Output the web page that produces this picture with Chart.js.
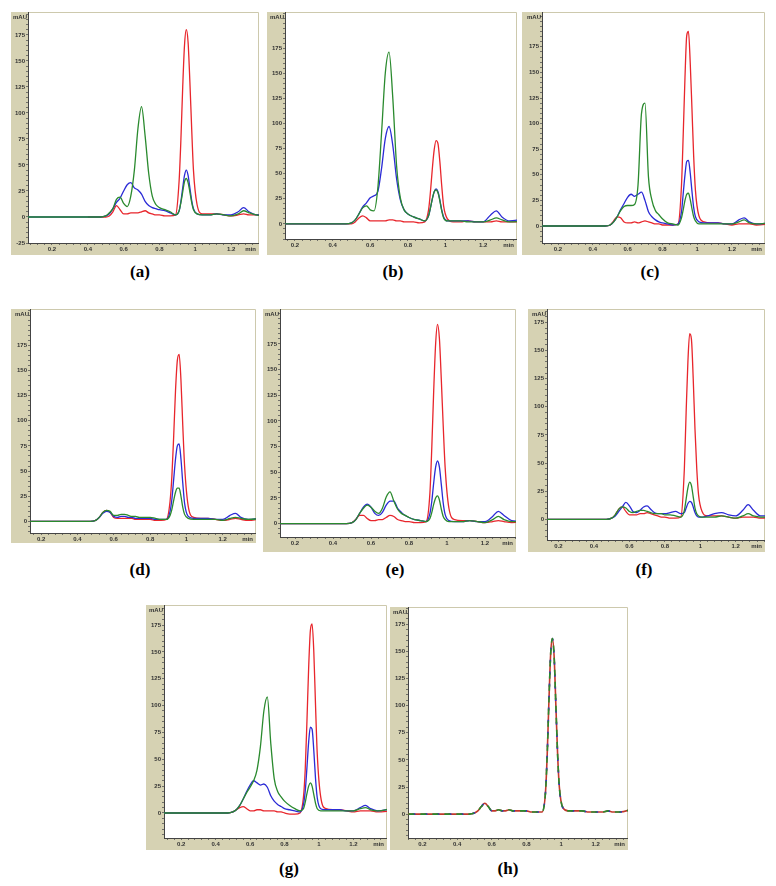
<!DOCTYPE html>
<html>
<head>
<meta charset="utf-8">
<title>Chromatograms (a)-(h)</title>
<script src="https://cdn.jsdelivr.net/npm/chart.js@4.4.1/dist/chart.umd.min.js"></script>
<style>
  html, body { margin: 0; padding: 0; background: #fff; }
  body { position: relative; width: 776px; height: 886px; overflow: hidden; }
  .panel { position: absolute; }
  .panel canvas { display: block; }
  .tag { position: absolute; transform: translate(-50%, -50%); font: bold 17px "Liberation Serif", "DejaVu Serif", serif; color: #000; white-space: nowrap; }
</style>
</head>
<body>
<script>
// retention time (min) of every sampled point, shared by all traces
const times = [0.05, 0.40, 0.47, 0.50,
  0.52, 0.54, 0.56, 0.58, 0.60, 0.62, 0.64, 0.66, 0.68, 0.70, 0.72, 0.74, 0.76, 0.78, 0.80, 0.83, 0.86, 0.89,
  0.91, 0.92, 0.93, 0.94, 0.95, 0.96, 0.97, 0.98, 0.99,
  1.01, 1.04, 1.08, 1.12, 1.16, 1.20, 1.24, 1.27, 1.30, 1.34, 1.42];

// absorbance (mAU)
const aRed   = [null, 0, 0, 0,  1, 5, 11, 7, 3, 3, 4, 4, 4, 5, 6, 4, 3, 2, 2, 1, 1, 2,  35, 75, 125, 165, 180, 168, 130, 85, 45,  12, 3, 3, 3, 2, 1, 2, 3, 2, 2, 1];
const aBlue  = [0, 0, 0, 1,  3, 8, 14, 18, 25, 31, 33, 28, 26, 22, 15, 11, 9, 8, 7, 6, 4, 2,  6, 15, 28, 40, 45, 40, 28, 16, 8,  3, 2, 2, 3, 2, 2, 5, 9, 5, 2, 2];
const aGreen = [0, 0, 0, 1,  4, 8, 17, 19, 13, 10, 20, 45, 85, 106, 78, 42, 20, 12, 9, 7, 5, 2,  6, 14, 24, 34, 37, 33, 24, 14, 7,  3, 2, 2, 3, 2, 1, 3, 6, 4, 2, 1];

const bRed   = [0, 0, 0, 0,  2, 6, 8, 6, 3, 3, 3, 3, 3, 4, 4, 3, 3, 2, 2, 2, 1, 2,  14, 32, 55, 74, 83, 80, 62, 38, 18,  5, 2, 2, 3, 2, 2, 2, 3, 2, 2, 2];
const bBlue  = [0, 0, 0, 1,  4, 10, 17, 21, 26, 28, 32, 55, 85, 97, 78, 45, 24, 14, 10, 7, 5, 3,  8, 16, 25, 32, 35, 32, 24, 14, 7,  3, 3, 3, 3, 2, 2, 9, 13, 7, 3, 5];
const bGreen = [0, 0, 0, 1,  4, 10, 16, 18, 14, 13, 35, 90, 150, 171, 125, 58, 26, 14, 10, 7, 5, 3,  8, 16, 25, 32, 34, 31, 23, 13, 6,  3, 3, 3, 2, 2, 2, 4, 6, 4, 2, 3];

const cRed   = [0, 0, 0, 1,  5, 9, 8, 4, 3, 3, 4, 3, 4, 5, 4, 3, 2, 2, 1, 1, 1, 2,  40, 90, 145, 186, 190, 160, 115, 68, 35,  10, 4, 3, 3, 2, 1, 2, 2, 2, 1, 2];
const cBlue  = [0, 0, 0, 1,  4, 9, 16, 22, 28, 31, 29, 31, 33, 25, 14, 9, 6, 4, 3, 2, 1, 2,  14, 32, 50, 63, 64, 52, 34, 18, 9,  4, 3, 3, 3, 2, 2, 6, 8, 4, 2, 3];
const cGreen = [0, 0, 0, 1,  4, 9, 15, 19, 20, 20, 21, 40, 110, 120, 48, 25, 15, 11, 7, 3, 2, 1,  8, 16, 25, 31, 32, 26, 17, 9, 5,  2, 2, 2, 2, 2, 2, 4, 6, 3, 2, 3];

const dRed   = [0, 0, 0, 1,  4, 9, 11, 9, 4, 3, 3, 3, 3, 3, 2, 2, 2, 2, 2, 1, 1, 2,  20, 45, 85, 130, 160, 166, 140, 95, 55,  15, 4, 3, 3, 2, 1, 2, 3, 2, 1, 3];
const dBlue  = [0, 0, 0, 1,  4, 8, 10, 9, 5, 4, 5, 5, 4, 4, 3, 3, 3, 3, 3, 2, 2, 2,  10, 22, 42, 62, 75, 77, 62, 38, 18,  5, 3, 3, 3, 2, 2, 6, 8, 4, 2, 4];
const dGreen = [0, 0, 0, 1,  4, 9, 11, 10, 6, 6, 7, 7, 6, 5, 5, 4, 4, 4, 4, 3, 2, 2,  6, 12, 21, 29, 33, 33, 25, 14, 7,  3, 2, 2, 2, 2, 1, 3, 4, 3, 2, 3];

const eRed   = [0, 0, 0, 1,  4, 8, 8, 5, 3, 3, 4, 4, 6, 8, 7, 4, 3, 2, 2, 1, 1, 2,  30, 75, 130, 175, 194, 180, 140, 95, 55,  15, 4, 3, 3, 2, 1, 2, 3, 2, 1, 2];
const eBlue  = [0, 0, 0, 1,  4, 10, 16, 19, 16, 10, 8, 11, 18, 22, 22, 15, 11, 8, 6, 4, 3, 2,  10, 22, 40, 55, 61, 55, 38, 20, 9,  3, 2, 2, 3, 2, 2, 7, 12, 8, 3, 2];
const eGreen = [0, 0, 0, 1,  4, 10, 15, 18, 16, 12, 10, 15, 26, 31, 22, 14, 10, 8, 6, 4, 3, 2,  5, 11, 19, 25, 27, 23, 14, 7, 4,  2, 2, 2, 3, 2, 1, 4, 7, 4, 2, 2];

const fRed   = [0, 0, 0, 1,  4, 9, 11, 7, 4, 4, 4, 5, 5, 6, 5, 4, 3, 2, 2, 1, 1, 2,  45, 95, 140, 165, 160, 125, 80, 45, 22,  7, 3, 3, 3, 2, 1, 2, 2, 2, 1, 2];
const fBlue  = [0, 0, 0, 1,  3, 7, 11, 15, 12, 7, 6, 8, 11, 12, 9, 6, 5, 5, 5, 6, 7, 5,  6, 10, 14, 16, 15, 11, 6, 3, 2,  2, 3, 5, 6, 4, 3, 8, 13, 8, 3, 3];
const fGreen = [0, 0, 0, 1,  4, 9, 11, 10, 7, 6, 7, 8, 8, 7, 6, 5, 5, 5, 4, 4, 3, 2,  8, 18, 28, 33, 30, 20, 10, 5, 3,  2, 2, 2, 3, 2, 1, 3, 5, 3, 2, 2];

const gRed   = [0, 0, 0, 1,  3, 5, 6, 4, 2, 2, 3, 3, 2, 2, 2, 2, 1, 1, 0, -1, -1, 0,  15, 40, 85, 135, 170, 176, 150, 100, 55,  15, 4, 3, 3, 2, 1, 2, 2, 2, 1, 2];
const gBlue  = [0, 0, 0, 1,  3, 7, 13, 20, 26, 30, 28, 26, 27, 24, 16, 11, 8, 6, 4, 3, 2, 1,  8, 20, 42, 66, 80, 78, 58, 32, 14,  4, 3, 3, 3, 2, 2, 5, 7, 4, 2, 4];
const gGreen = [0, 0, 0, 1,  3, 7, 13, 19, 24, 30, 40, 62, 95, 108, 65, 32, 20, 15, 11, 7, 4, 2,  4, 10, 18, 25, 28, 25, 17, 9, 4,  2, 2, 2, 2, 2, 2, 4, 5, 3, 2, 4];

// (h): the three channels coincide
const hTrace = [0, 0, 0, 1,  3, 7, 10, 7, 3, 3, 4, 3, 3, 4, 3, 3, 3, 3, 3, 2, 2, 2,  20, 55, 105, 148, 162, 145, 100, 55, 25,  6, 3, 3, 3, 2, 2, 2, 3, 2, 2, 5];

// tick labels
const xTickLabels = [0.2, 0.4, 0.6, 0.8, 1, 1.2];
const yTickLabels = [-25, 0, 25, 50, 75, 100, 125, 150, 175];

// where each panel sits on the page and the axis range it shows
const panels = [
  { tag: '(a)', left: 11,  top: 12,  width: 248, height: 243, strip: 17, band: 12, x: [0.066, 1.356], y: [-25, 197],   lines: [aRed, aBlue, aGreen], at: [140, 272] },
  { tag: '(b)', left: 267, top: 12,  width: 250, height: 243, strip: 18, band: 16, x: [0.147, 1.38],  y: [-15, 211],   lines: [bRed, bBlue, bGreen], at: [393, 272] },
  { tag: '(c)', left: 522, top: 12,  width: 243, height: 243, strip: 20, band: 12, x: [0.108, 1.39],  y: [-16.6, 209], lines: [cRed, cBlue, cGreen], at: [650, 272] },
  { tag: '(d)', left: 11,  top: 309, width: 245, height: 234, strip: 19, band: 10, x: [0.139, 1.383], y: [-11.5, 211], lines: [dRed, dBlue, dGreen], at: [140, 570] },
  { tag: '(e)', left: 263, top: 309, width: 253, height: 243, strip: 17, band: 15, x: [0.121, 1.363], y: [-13, 209],   lines: [eRed, eBlue, eGreen], at: [395, 570] },
  { tag: '(f)', left: 528, top: 309, width: 237, height: 243, strip: 19, band: 12, x: [0.135, 1.365], y: [-18.4, 187], lines: [fRed, fBlue, fGreen], at: [644, 570] },
  { tag: '(g)', left: 146, top: 605, width: 241, height: 245, strip: 18, band: 12, x: [0.10, 1.395],  y: [-23.3, 193.7], lines: [gRed, gBlue, gGreen], at: [289, 869] },
  { tag: '(h)', left: 390, top: 607, width: 238, height: 243, strip: 18, band: 12, x: [0.117, 1.386], y: [-22, 191],   lines: [hTrace, hTrace, hTrace], at: [508, 869], overlay: true }
];

const TAN = '#d6d2b3';
const RED = '#e8262c';
const BLUE = '#2b2bd6';
const GREEN = '#2a8a2e';
const TICK_FONT = { family: 'Liberation Sans', size: 6, weight: 'bold' };

// tan frame, white plot area, "mAU" and "min" captions
const panelFrame = {
  id: 'panelFrame',
  beforeDraw(chart) {
    const { ctx, chartArea: a, width, height } = chart;
    ctx.save();
    ctx.fillStyle = TAN;
    ctx.fillRect(0, 0, width, height);
    ctx.fillStyle = '#fff';
    ctx.fillRect(a.left, a.top, a.right - a.left, a.bottom - a.top);
    ctx.strokeStyle = '#cdc9ad';
    ctx.lineWidth = 1;
    ctx.beginPath();
    ctx.moveTo(a.left, a.top + 0.5);
    ctx.lineTo(a.right - 0.5, a.top + 0.5);
    ctx.lineTo(a.right - 0.5, a.bottom);
    ctx.stroke();
    ctx.restore();
  },
  afterDraw(chart) {
    const { ctx, chartArea: a, width } = chart;
    ctx.save();
    ctx.fillStyle = '#333';
    ctx.font = 'bold 6px "Liberation Sans", Arial, sans-serif';
    ctx.textBaseline = 'top';
    ctx.textAlign = 'right';
    ctx.fillText('mAU', a.left - 1, 2);
    ctx.fillText('min', width - 3, a.bottom + 3);
    ctx.restore();
  }
};

function ticksEvery(step) {
  return function (scale) {
    const first = Math.ceil(scale.min / step - 1e-9);
    const last = Math.floor(scale.max / step + 1e-9);
    const ticks = [];
    for (let k = first; k <= last; k++) ticks.push({ value: Math.round(k * step * 1000) / 1000 });
    scale.ticks = ticks;
  };
}

function fixSize(prop, size) {
  return function (scale) {
    scale[prop] = size;
    scale.paddingLeft = scale.paddingRight = scale.paddingTop = scale.paddingBottom = 0;
  };
}

function labelFrom(values) {
  return function (v) {
    const hit = values.find(l => Math.abs(l - v) < 1e-6);
    return hit === undefined ? '' : String(hit);
  };
}

function points(values) {
  return times.map((t, i) => ({ x: t, y: values[i] }));
}

document.addEventListener('DOMContentLoaded', function () {
  panels.forEach(p => {
    const box = document.createElement('div');
    box.className = 'panel';
    box.style.left = p.left + 'px';
    box.style.top = p.top + 'px';
    const canvas = document.createElement('canvas');
    canvas.width = p.width;
    canvas.height = p.height;
    canvas.style.width = p.width + 'px';
    canvas.style.height = p.height + 'px';
    box.appendChild(canvas);
    document.body.appendChild(box);

    const tag = document.createElement('div');
    tag.className = 'tag';
    tag.textContent = p.tag;
    tag.style.left = p.at[0] + 'px';
    tag.style.top = p.at[1] + 'px';
    document.body.appendChild(tag);

    const [red, blue, green] = p.lines;
    const datasets = p.overlay ? [
      { data: points(red), borderColor: '#c0392b', borderWidth: 1.6, order: 3 },
      { data: points(blue), borderColor: BLUE, borderWidth: 1.6, borderDash: [3, 9], borderDashOffset: 8, order: 2 },
      { data: points(green), borderColor: GREEN, borderWidth: 1.6, borderDash: [6, 6], order: 1 }
    ] : [
      { data: points(red), borderColor: RED, order: 3 },
      { data: points(blue), borderColor: BLUE, order: 2 },
      { data: points(green), borderColor: GREEN, order: 1 }
    ];

    new Chart(canvas, {
      type: 'line',
      data: { datasets: datasets },
      options: {
        responsive: false,
        maintainAspectRatio: false,
        animation: false,
        devicePixelRatio: 1,
        layout: { padding: 0 },
        plugins: { legend: { display: false }, tooltip: { enabled: false } },
        elements: {
          point: { radius: 0 },
          line: { borderWidth: 1.3, cubicInterpolationMode: 'monotone', fill: false }
        },
        scales: {
          x: {
            type: 'linear',
            min: p.x[0],
            max: p.x[1],
            afterBuildTicks: ticksEvery(0.04),
            afterFit: fixSize('height', p.band),
            grid: { drawOnChartArea: false, tickLength: 2, color: '#555', lineWidth: 0.8 },
            border: { display: true, color: '#444', width: 1 },
            ticks: { autoSkip: false, maxRotation: 0, minRotation: 0, padding: 1, color: '#333', font: TICK_FONT, callback: labelFrom(xTickLabels) }
          },
          y: {
            type: 'linear',
            min: p.y[0],
            max: p.y[1],
            afterBuildTicks: ticksEvery(5),
            afterFit: fixSize('width', p.strip),
            grid: { drawOnChartArea: false, tickLength: 2, color: '#555', lineWidth: 0.8 },
            border: { display: true, color: '#444', width: 1 },
            ticks: { autoSkip: false, padding: 1, color: '#333', font: TICK_FONT, callback: labelFrom(yTickLabels) }
          }
        }
      },
      plugins: [panelFrame]
    });
  });
});
</script>
</body>
</html>
